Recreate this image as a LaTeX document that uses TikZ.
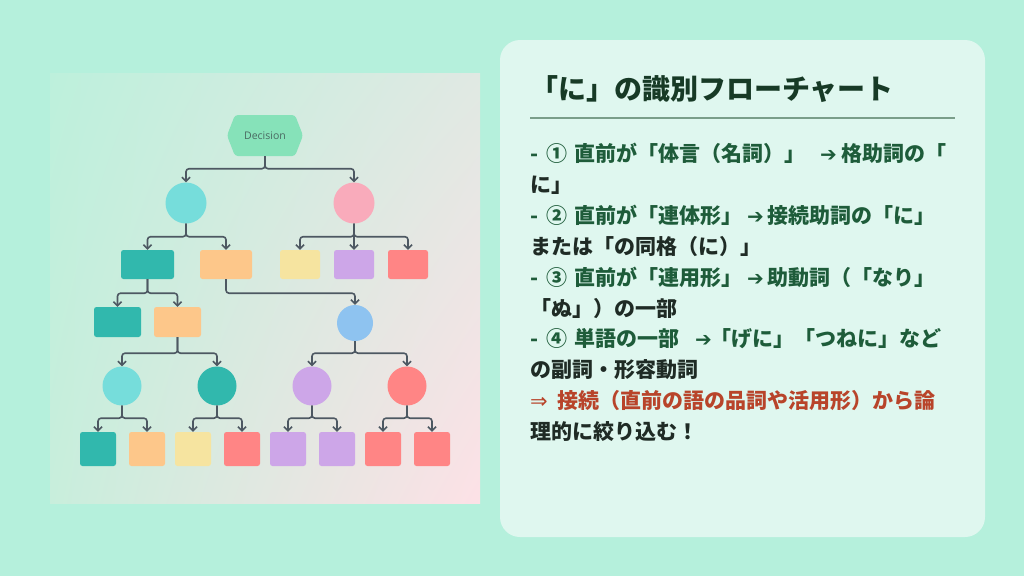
\documentclass[tikz,border=0pt]{standalone}
\usepackage{fontspec}
\usetikzlibrary{arrows.meta,shadings}
\newfontfamily\jp{Noto Sans CJK JP}
\newfontfamily\dv{DejaVu Sans}
\newfontfamily\deci{Open Sans}
\definecolor{bg}{HTML}{B5F0DC}
\definecolor{cardc}{HTML}{DFF7EF}
\definecolor{gtl}{HTML}{BDF0DC}
\definecolor{gtr}{HTML}{E0E9E3}
\definecolor{gbl}{HTML}{C8EEDC}
\definecolor{gbr}{HTML}{FDE1E6}
\definecolor{hexc}{HTML}{86E2B9}
\definecolor{hextxt}{HTML}{4A6A62}
\definecolor{cyanc}{HTML}{76DDDB}
\definecolor{pinkc}{HTML}{F9ABBB}
\definecolor{tealc}{HTML}{31B8AD}
\definecolor{orangec}{HTML}{FDC78A}
\definecolor{yellowc}{HTML}{F6E4A0}
\definecolor{purplec}{HTML}{CDA6E8}
\definecolor{redc}{HTML}{FF8585}
\definecolor{bluec}{HTML}{8EC3F0}
\definecolor{linec}{HTML}{4D5862}
\definecolor{titlec}{HTML}{173A26}
\definecolor{greent}{HTML}{1E5C3A}
\definecolor{darkt}{HTML}{1F2B25}
\definecolor{redt}{HTML}{B8442A}
\definecolor{rulec}{HTML}{7A9E8A}
\tikzset{
  edge/.style={draw=linec, line width=1.6pt, rounded corners=3pt, -{Straight Barb[length=4pt,width=8pt]}},
  circ/.style={circle, inner sep=0pt, minimum size=#1},
  box/.style={rectangle, rounded corners=2.5pt, inner sep=0pt},
  txt/.style={anchor=base west, inner sep=0pt, font=\jp\bfseries\fontsize{21}{25}\selectfont},
}
\newcommand{\arr}{{\dv\bfseries\fontsize{20}{22}\selectfont ➔}}
\newcommand{\cell}[2]{\makebox[#1pt][l]{#2}}
\begin{document}
\begin{tikzpicture}[x=1pt,y=-1pt]
\useasboundingbox (0,0) rectangle (1024,576);
\fill[bg] (0,0) rectangle (1024,576);
% left panel
\shade[upper left=gtl, upper right=gtr, lower left=gbl, lower right=gbr] (50,73) rectangle (480,503);
% hexagon
\fill[hexc, rounded corners=3pt] (227,135.5) -- (235,115) -- (295,115) -- (303,135.5) -- (295,156) -- (235,156) -- cycle;
\node[inner sep=0pt, minimum width=76pt, minimum height=41pt, font=\deci\fontsize{10.5}{12}\selectfont, text=hextxt] (dec) at (265,135.5) {Decision};
% level 1
\node[circ=41pt, fill=cyanc] (a) at (186,203) {};
\node[circ=41pt, fill=pinkc] (b) at (354,203) {};
% level 2
\node[box, fill=tealc, minimum width=53pt, minimum height=29pt] (ra) at (147.5,264.5) {};
\node[box, fill=orangec, minimum width=52pt, minimum height=29pt] (rb) at (226,264.5) {};
\node[box, fill=yellowc, minimum width=40pt, minimum height=29pt] (py) at (300,264.5) {};
\node[box, fill=purplec, minimum width=40pt, minimum height=29pt] (pp) at (354,264.5) {};
\node[box, fill=redc, minimum width=40pt, minimum height=29pt] (pr) at (408,264.5) {};
% level 3
\node[box, fill=tealc, minimum width=47pt, minimum height=30pt] (rc) at (117.5,322) {};
\node[box, fill=orangec, minimum width=47pt, minimum height=30pt] (rd) at (177.5,322) {};
\node[circ=36pt, fill=bluec] (bl) at (355,323) {};
% level 4
\node[circ=39pt, fill=cyanc] (cl) at (122,386) {};
\node[circ=39pt, fill=tealc] (ct) at (217,386) {};
\node[circ=39pt, fill=purplec] (cp) at (312,386) {};
\node[circ=39pt, fill=redc] (cr) at (407,386) {};
% level 5
\foreach \n/\x/\c in {s1/98/tealc, s2/147/orangec, s3/193/yellowc, s4/242/redc, s5/288/purplec, s6/337/purplec, s7/383/redc, s8/432/redc}
  \node[box, fill=\c, minimum width=36pt, minimum height=34pt] (\n) at (\x,449) {};
% connectors
\draw[edge] (dec.south) -- ++(0,12.5) -| (a.north);
\draw[edge] (dec.south) -- ++(0,12.5) -| (b.north);
\draw[edge] (a.south) -- ++(0,13) -| (ra.north);
\draw[edge] (a.south) -- ++(0,13) -| (rb.north);
\draw[edge] (b.south) -- ++(0,13) -| (py.north);
\draw[edge] (b.south) -- (pp.north);
\draw[edge] (b.south) -- ++(0,13) -| (pr.north);
\draw[edge] (ra.south) -- ++(0,14) -| (rc.north);
\draw[edge] (ra.south) -- ++(0,14) -| (rd.north);
\draw[edge] (rb.south) -- ++(0,14) -| (bl.north);
\draw[edge] (rd.south) -- ++(0,16) -| (cl.north);
\draw[edge] (rd.south) -- ++(0,16) -| (ct.north);
\draw[edge] (bl.south) -- ++(0,12) -| (cp.north);
\draw[edge] (bl.south) -- ++(0,12) -| (cr.north);
\draw[edge] (cl.south) -- ++(0,12.5) -| (s1.north);
\draw[edge] (cl.south) -- ++(0,12.5) -| (s2.north);
\draw[edge] (ct.south) -- ++(0,12.5) -| (s3.north);
\draw[edge] (ct.south) -- ++(0,12.5) -| (s4.north);
\draw[edge] (cp.south) -- ++(0,12.5) -| (s5.north);
\draw[edge] (cp.south) -- ++(0,12.5) -| (s6.north);
\draw[edge] (cr.south) -- ++(0,12.5) -| (s7.north);
\draw[edge] (cr.south) -- ++(0,12.5) -| (s8.north);
% card
\fill[cardc, rounded corners=20pt] (500,40) rectangle (985,537);
\node[anchor=base west, inner sep=0pt, font=\jp\bfseries\fontsize{28}{32}\selectfont, text=titlec] (title) at (530,99.5) {「に」の識別フローチャート};
\coordinate (r1) at (530,118);
\coordinate (r2) at (955,118);
\draw[rulec, line width=2pt] (r1) -- (r2);
\node[txt, text=greent] (l1) at (530,161) {\cell{16}{-}\cell{28}{①}\cell{246}{直前が「体言（名詞）」}\cell{21}{\arr}格助詞の「};
\node[txt, text=darkt] (l2) at (530,192) {に」};
\node[txt, text=greent] (l3) at (530,223) {\cell{16}{-}\cell{28}{②}\cell{173}{直前が「連体形」}\cell{20}{\arr}接続助詞の「に」};
\node[txt, text=darkt] (l4) at (530,254) {または「の同格（に）」};
\node[txt, text=greent] (l5) at (530,285) {\cell{16}{-}\cell{28}{③}\cell{173}{直前が「連用形」}\cell{20}{\arr}助動詞（「なり」};
\node[txt, text=darkt] (l6) at (530,316) {「ぬ」）の一部};
\node[txt, text=greent] (l7) at (530,346) {\cell{16}{-}\cell{28}{④}\cell{121}{単語の一部}\cell{15}{\arr}「げに」「つねに」など};
\node[txt, text=darkt] (l8) at (530,377) {の副詞・形容動詞};
\node[txt, text=redt] (l9) at (530,408) {\cell{27}{\dv\mdseries ⇒}接続（直前の語の品詞や活用形）から論};
\node[txt, text=darkt] (l10) at (530,439) {理的に絞り込む！};
\end{tikzpicture}
\end{document}
